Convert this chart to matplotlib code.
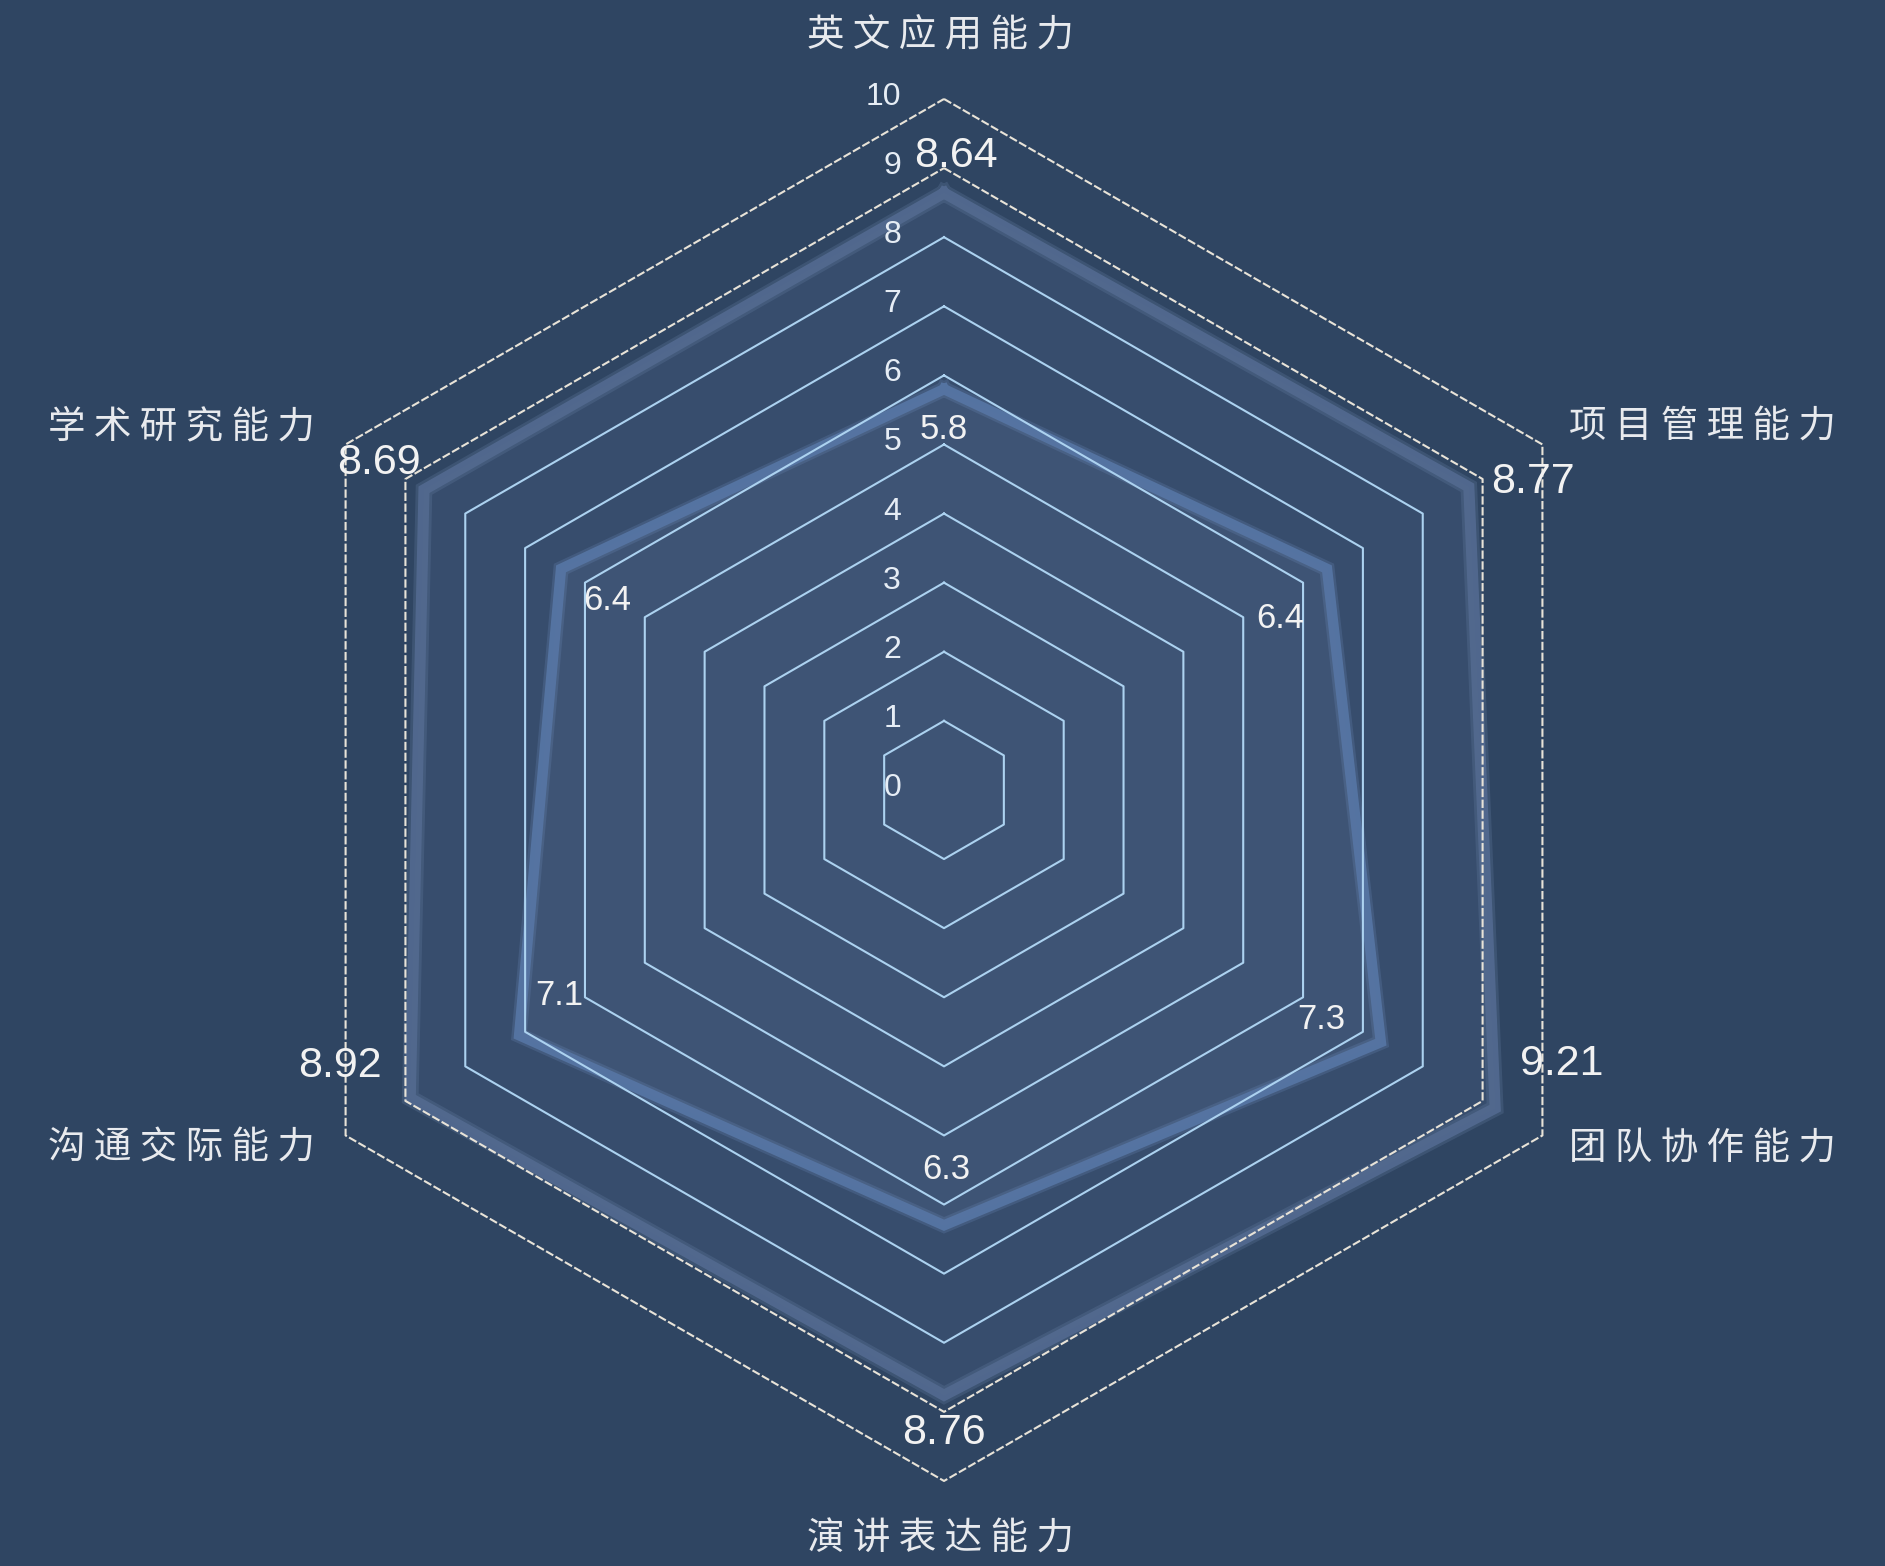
import numpy as np
import matplotlib
matplotlib.use("Agg")
import matplotlib.pyplot as plt

# ---- data ----
categories = ["英文应用能力", "项目管理能力", "团队协作能力", "演讲表达能力", "沟通交际能力", "学术研究能力"]
series_outer = [8.64, 8.77, 9.21, 8.76, 8.92, 8.69]
series_inner = [5.8, 6.4, 7.3, 6.3, 7.1, 6.4]
ring_levels = [1, 2, 3, 4, 5, 6, 7, 8, 9, 10]
ring_tick_values = [0, 1, 2, 3, 4, 5, 6, 7, 8, 9, 10]
ring_tick_labels = ["0", "1", "2", "3", "4", "5", "6", "7", "8", "9", "10"]

BG = "#2f4562"
W, H = 1885, 1566
fig = plt.figure(figsize=(W / 100, H / 100), dpi=100, facecolor=BG)
ax = fig.add_axes([0.1342, 0.0543, 0.7332, 0.8825], projection="polar")
ax.set_facecolor("none")
ax.set_theta_zero_location("N")
ax.set_theta_direction(-1)
ax.set_ylim(0, 10)
ax.grid(False)
ax.set_xticks([])
ax.set_yticks([])
ax.spines["polar"].set_visible(False)

n = len(categories)
theta = np.arange(n) * 2 * np.pi / n
theta_c = np.append(theta, theta[0])

def closed(vals):
    v = list(vals)
    return v + [v[0]]

# series fills and bands
ax.fill(theta_c, closed(series_outer), color="#5a73a0", alpha=0.19, zorder=1, lw=0)
ax.plot(theta_c, closed(series_outer), color="#6a82a8", lw=12, alpha=0.25, zorder=2,
        solid_joinstyle="miter", clip_on=False)
ax.plot(theta_c, closed(series_outer), color="#536a90", lw=8, alpha=0.9, zorder=2,
        solid_joinstyle="miter", clip_on=False)
ax.fill(theta_c, closed(series_inner), color="#5f78a0", alpha=0.175, zorder=3, lw=0)
ax.plot(theta_c, closed(series_inner), color="#6a88b8", lw=11, alpha=0.25, zorder=4,
        solid_joinstyle="miter", clip_on=False)
ax.plot(theta_c, closed(series_inner), color="#5675a3", lw=7.5, alpha=0.95, zorder=4,
        solid_joinstyle="miter", clip_on=False)

# rings
for lv in ring_levels:
    if lv >= 9:
        col, ls = "#e8e3d8", (0, (4, 1.2))
    else:
        col, ls = "#acd2f0", "-"
    ax.plot(theta_c, [lv] * (n + 1), color=col, lw=1.5, ls=ls, zorder=5, clip_on=False)

# ring tick labels
for v, lab in zip(ring_tick_values, ring_tick_labels):
    ax.annotate(lab, xy=(0, v), xytext=(-43, 2), textcoords="offset pixels",
                ha="right", va="center", fontsize=23, color="#e6edf5",
                family=["Liberation Sans", "DejaVu Sans"], zorder=6)

# category labels
cat_offsets = [(-4, 63, "center"), (27, 18, "left"), (27, -13, "left"),
               (-4, -58, "center"), (-31, -13, "right"), (-31, 18, "right")]
for t, lab, (dx, dy, ha) in zip(theta, categories, cat_offsets):
    ax.annotate(" ".join(lab), xy=(t, 10), xytext=(dx, dy), textcoords="offset pixels",
                ha=ha, va="center", fontsize=27, color="#e8eaee",
                family=["Noto Sans CJK SC", "DejaVu Sans"], zorder=6)

# value labels
outer_offsets = [(12, 37, "center"), (22, 5, "left"), (25, 44, "left"),
                 (0, -38, "center"), (-28, 32, "right"), (-3, 27, "right")]
for t, v, (dx, dy, ha) in zip(theta, series_outer, outer_offsets):
    ax.annotate(f"{v:g}", xy=(t, v), xytext=(dx, dy), textcoords="offset pixels",
                ha=ha, va="center", fontsize=31, color="#f2f2f2",
                family=["Liberation Sans", "DejaVu Sans"], zorder=7)

inner_offsets = [(0, -40, "center"), (-23, -50, "right"), (-35, 23, "right"),
                 (2, 56, "center"), (16, 40, "left"), (22, -32, "left")]
for t, v, (dx, dy, ha) in zip(theta, series_inner, inner_offsets):
    ax.annotate(f"{v:g}", xy=(t, v), xytext=(dx, dy), textcoords="offset pixels",
                ha=ha, va="center", fontsize=25, color="#f2f2f2",
                family=["Liberation Sans", "DejaVu Sans"], zorder=7)

fig.savefig("out.png", dpi=100, facecolor=BG)
